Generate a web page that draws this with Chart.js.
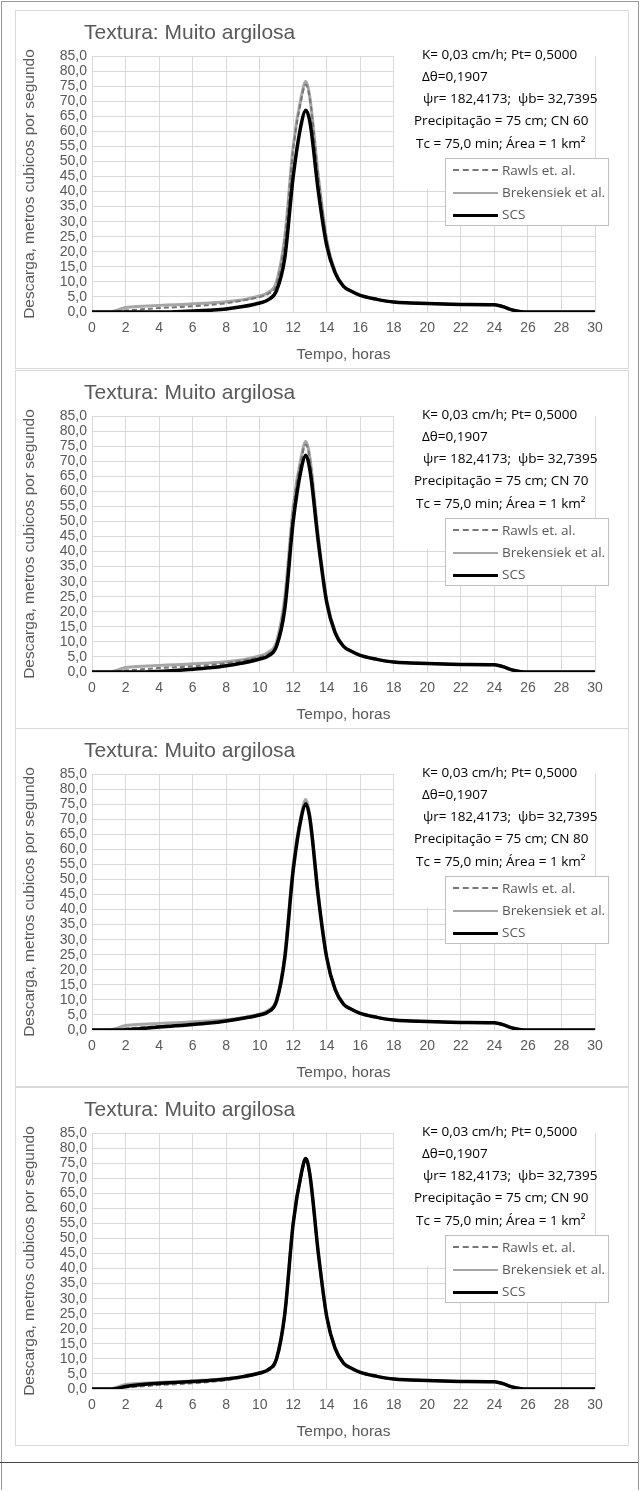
<!DOCTYPE html>
<html><head><meta charset="utf-8">
<script src="https://cdn.jsdelivr.net/npm/chart.js@4"></script>
<style>
body{margin:0;background:#fff;font-family:"Liberation Sans Narrow","Open Sans",sans-serif;}
#frame{position:absolute;left:1px;top:1px;width:636px;height:1488px;border:1px solid #999;border-bottom:none;}
#rule{position:absolute;left:0;top:1462px;width:638px;border-top:1px solid #444;}
.panel{position:absolute;left:15px;width:612px;height:357px;border:1px solid #d9d9d9;background:#fff;}
.panel canvas{position:absolute;left:0;top:0;}
.title{position:absolute;left:68px;top:9px;font-size:21px;color:#595959;font-family:"Liberation Sans Narrow",sans-serif;}
.note{position:absolute;left:378px;top:30px;width:201px;height:148px;background:#fff;font-size:13.5px;color:#000;}
.note div{position:absolute;white-space:nowrap;}
.legend{position:absolute;left:429px;top:147px;width:162px;height:66px;border:1px solid #bfbfbf;background:#fff;font-size:13.5px;color:#595959;}
.legend div{position:absolute;left:56px;}
.legend span{position:absolute;left:7px;width:45px;}
</style></head><body>
<div id="frame"></div><div id="rule"></div>
<div id="wrap"></div>
<script>
const hours = [0,1,1.5,2,3,4,5,6,7,8,9,10,10.5,11,11.5,12,12.5,12.75,13,13.5,14,14.5,15,15.5,16,17,18,19,20,22,24,24.5,25,25.5,26,28,30];
const brakensiek = [0,0,0.6,1.5,1.9,2.2,2.4,2.7,3.0,3.4,4.1,5.3,6.5,10,25,55,72,76.5,71,45,24,13.5,8.6,6.8,5.5,4.2,3.3,3.0,2.8,2.5,2.4,1.8,0.8,0.2,0,0,0];
const rawls = [0,0,0.2,0.5,0.9,1.3,1.6,1.9,2.3,2.9,3.8,5.0,6.0,9.2,24,54,71,75.5,70.5,45,24,13.5,8.6,6.8,5.5,4.2,3.3,3.0,2.8,2.5,2.4,1.8,0.8,0.2,0,0,0];
const scsCN60 = [0,0,0,0,0,0,0.1,0.3,0.6,1.0,1.8,3.0,4.0,7,18,45,63,67,63,40,22,13,8.5,6.8,5.5,4.2,3.3,3.0,2.8,2.5,2.4,1.8,0.8,0.2,0,0,0];
const scsCN70 = [0,0,0,0,0,0.2,0.5,0.9,1.4,2.1,3.0,4.3,5.3,8.5,21,50,68,72,67,43,23,13,8.5,6.8,5.5,4.2,3.3,3.0,2.8,2.5,2.4,1.8,0.8,0.2,0,0,0];
const scsCN80 = [0,0,0,0.1,0.5,1.0,1.4,1.8,2.3,3.0,3.9,5.0,6.0,9.5,24,53,71,75,70,44,24,13.5,8.6,6.8,5.5,4.2,3.3,3.0,2.8,2.5,2.4,1.8,0.8,0.2,0,0,0];
const scsCN90 = [0,0,0.2,0.8,1.5,1.9,2.2,2.5,2.8,3.3,4.1,5.3,6.4,10,25,55,72,76.5,71,45,24,13.5,8.6,6.8,5.5,4.2,3.3,3.0,2.8,2.5,2.4,1.8,0.8,0.2,0,0,0];
const panels = [{cn: 60, scs: scsCN60}, {cn: 70, scs: scsCN70}, {cn: 80, scs: scsCN80}, {cn: 90, scs: scsCN90}];
const panelTops = [10, 370, 728, 1087];
const xTicks = [0,2,4,6,8,10,12,14,16,18,20,22,24,26,28,30];

const pts = ys => hours.map((h, i) => ({x: h, y: ys[i]}));
const tickFont = {family: '"Liberation Sans Narrow", sans-serif', size: 14};
const titleFont = {family: '"Liberation Sans Narrow", sans-serif', size: 15.5};

panels.forEach((p, k) => {
  const div = document.createElement('div');
  div.className = 'panel';
  div.style.top = panelTops[k] + 'px';
  div.innerHTML = `<canvas width="612" height="357"></canvas>
    <div class="title">Textura: Muito argilosa</div>
    <div class="note">
      <div style="left:28px;top:4px">K= 0,03 cm/h; Pt= 0,5000</div>
      <div style="left:28px;top:26px">Δθ=0,1907</div>
      <div style="left:29px;top:48px">ψr= 182,4173;&nbsp; ψb= 32,7395</div>
      <div style="left:20px;top:70px">Precipitação = 75 cm; CN ${p.cn}</div>
      <div style="left:22px;top:93px">Tc = 75,0 min; Área = 1 km²</div>
    </div>
    <div class="legend">
      <span style="top:10px;border-top:2px dashed #767676"></span><div style="top:2px">Rawls et. al.</div>
      <span style="top:33px;border-top:2px solid #a6a6a6"></span><div style="top:24px">Brekensiek et al.</div>
      <span style="top:55px;border-top:3px solid #000"></span><div style="top:46px">SCS</div>
    </div>`;
  document.getElementById('wrap').appendChild(div);
  new Chart(div.querySelector('canvas'), {
    type: 'line',
    data: {
      datasets: [
        {label: 'SCS', data: pts(p.scs), borderColor: '#000', borderWidth: 3.5, pointRadius: 0, cubicInterpolationMode: 'monotone'},
        {label: 'Rawls et. al.', data: pts(rawls), borderColor: '#767676', borderDash: [5, 3], borderWidth: 2, pointRadius: 0, cubicInterpolationMode: 'monotone'},
        {label: 'Brekensiek et al.', data: pts(brakensiek), borderColor: '#a6a6a6', borderWidth: 3, pointRadius: 0, cubicInterpolationMode: 'monotone'}
      ]
    },
    options: {
      responsive: false, animation: false,
      layout: {padding: {top: 45, right: 33}},
      plugins: {legend: {display: false}, tooltip: {enabled: false}},
      scales: {
        x: {type: 'linear', min: 0, max: 30,
          afterBuildTicks: s => { s.ticks = xTicks.map(v => ({value: v})); },
          afterFit: s => { s.height = 56; },
          grid: {color: '#d9d9d9', drawTicks: false}, border: {display: false},
          ticks: {color: '#595959', font: tickFont, padding: 8, autoSkip: false, maxRotation: 0},
          title: {display: true, text: 'Tempo, horas', color: '#595959', font: titleFont, padding: {top: 2}}},
        y: {min: 0, max: 85,
          afterFit: s => { s.width = 76; },
          grid: {color: '#d9d9d9', drawTicks: false}, border: {display: false},
          ticks: {stepSize: 5, autoSkip: false, color: '#595959', font: tickFont, padding: 5,
            callback: v => v.toFixed(1).replace('.', ',')},
          title: {display: true, text: 'Descarga, metros cubicos por segundo', color: '#595959', font: titleFont, padding: {bottom: 0}}}
      }
    }
  });
});
</script>
</body></html>
